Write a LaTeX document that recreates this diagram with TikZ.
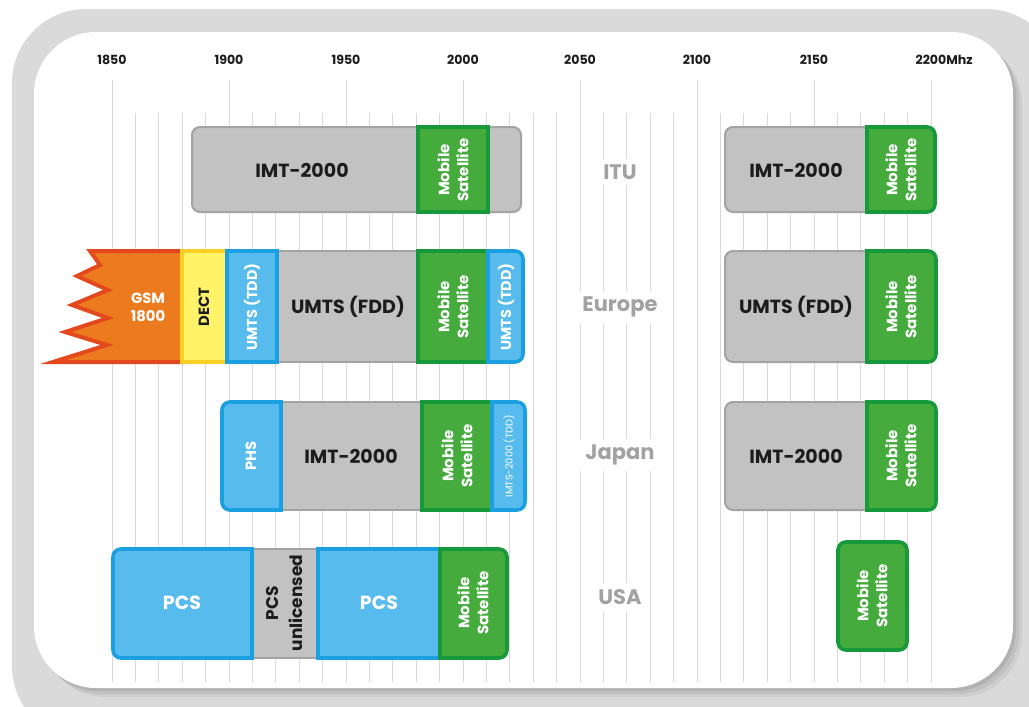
\documentclass[tikz,border=0pt]{standalone}
\usepackage{fontspec}
\setmainfont{Poppins}
\usepackage{tikz}

\definecolor{framegray}{HTML}{DADADA}
\definecolor{gridgray}{HTML}{D9D9D9}
\definecolor{bandgray}{HTML}{C2C2C2}
\definecolor{bandgrayedge}{HTML}{A3A3A3}
\definecolor{satgreen}{HTML}{46AB3D}
\definecolor{satgreenedge}{HTML}{17983A}
\definecolor{tddblue}{HTML}{58BBEE}
\definecolor{tddblueedge}{HTML}{1A9FE0}
\definecolor{gsmorange}{HTML}{EC7A1E}
\definecolor{gsmedge}{HTML}{E4491E}
\definecolor{dectyellow}{HTML}{FFF36A}
\definecolor{dectedge}{HTML}{F8CF25}
\definecolor{textdark}{HTML}{1C1C1C}
\definecolor{regiongray}{HTML}{A2A2A2}

\tikzstyle{gridline} = [draw=gridgray, line width=0.5pt]
\tikzstyle{grayband} = [fill=bandgray, draw=bandgrayedge, line width=1pt]
\tikzstyle{satband} = [fill=satgreen, draw=satgreenedge, line width=1.8pt]
\tikzstyle{tddband} = [fill=tddblue, draw=tddblueedge, line width=1.8pt]
\tikzstyle{gsmband} = [fill=gsmorange, draw=gsmedge, line width=2pt, line join=miter]
\tikzstyle{dectband} = [fill=dectyellow, draw=dectedge, line width=1.6pt]
\tikzstyle{bandlabel} = [text=textdark, font=\bfseries\fontsize{9.5}{11}\selectfont]
\tikzstyle{pcslabel} = [text=white, font=\bfseries\fontsize{9.5}{11}\selectfont]
\tikzstyle{satlabel} = [text=white, rotate=90, align=center, font=\bfseries\fontsize{7.5}{9.5}\selectfont]
\tikzstyle{tddlabel} = [text=white, rotate=90, font=\bfseries\fontsize{7.2}{8.6}\selectfont]
\tikzstyle{region} = [fill=white, text=regiongray, inner sep=3pt, font=\bfseries\fontsize{10.5}{12}\selectfont]
\tikzstyle{tick} = [text=textdark, font=\bfseries\fontsize{6.3}{7}\selectfont]

\begin{document}
\begin{tikzpicture}[x=0.5pt, y=-0.5pt]
\clip (0,0) rectangle (1029,707);

% Frame
\fill[framegray, rounded corners=37pt] (12,9) rectangle (1060,740);
\foreach \s/\o in {9/0.05, 6/0.06, 3/0.08}
  \fill[black, opacity=\o, rounded corners=31pt] ({34+\s},{32+\s}) rectangle ({1013+\s},{688+\s});
\fill[white, rounded corners=31pt] (34,32) rectangle (1013,688);

% Grid and scale
\foreach \f in {1860,1870,...,2190}
  \draw[gridline] ({112+(\f-1850)*2.34},113) -- ({112+(\f-1850)*2.34},682);
\foreach \f in {1850,1900,...,2200}
  \draw[gridline] ({112+(\f-1850)*2.34},80) -- ({112+(\f-1850)*2.34},682);
\foreach \f in {1850,1900,...,2150}
  \node[tick] (t\f) at ({112+(\f-1850)*2.34},60) {\f};
\node[tick] (t2200) at (931,60) {2200\rlap{Mhz}};

% ITU
\draw[grayband, rounded corners=4pt] (192,127) rectangle (521,212);
\draw[satband] (418,127) rectangle (488,212);
\node[bandlabel] (ituimt) at (302,170) {IMT-2000};
\node[satlabel] (itusat) at (453,170) {Mobile\\Satellite};
\draw[grayband] (796,127) [rounded corners=4pt] -- (725,127) -- (725,212) -- (796,212) [sharp corners] -- (867,212) -- (867,127) -- cycle;
\draw[satband] (901,127) [rounded corners=4pt] -- (935,127) -- (935,212) -- (901,212) [sharp corners] -- (867,212) -- (867,127) -- cycle;
\node[bandlabel] (ituimt2) at (796,170) {IMT-2000};
\node[satlabel] (itusat2) at (901,170) {Mobile\\Satellite};
\node[region] (itu) at (620,172) {ITU};

% Europe
\draw[grayband] (277,251) rectangle (418,362);
\draw[gsmband] (182,251) -- (90,251) -- (100,265) -- (77,276) -- (108,290) -- (72,305) -- (108,318) -- (65,332) -- (107,345) -- (53,362) -- (182,362) -- cycle;
\draw[dectband] (182,251) rectangle (227,362);
\draw[tddband] (227,251) rectangle (277,362);
\draw[satband] (418,251) rectangle (488,362);
\draw[tddband] (505,251) [rounded corners=4pt] -- (523,251) -- (523,362) -- (505,362) [sharp corners] -- (488,362) -- (488,251) -- cycle;
\node[text=white, align=center, font=\bfseries\fontsize{7.4}{9}\selectfont] (gsm) at (148,307) {GSM\\1800};
\node[text=textdark, rotate=90, font=\bfseries\fontsize{7.4}{8}\selectfont] (dect) at (204,307) {DECT};
\node[tddlabel] (eutdd) at (252,307) {UMTS (TDD)};
\node[bandlabel] (eufdd) at (348,307) {UMTS (FDD)};
\node[satlabel] (eusat) at (453,307) {Mobile\\Satellite};
\node[tddlabel] (eutdd2) at (506,307) {UMTS (TDD)};
\draw[grayband] (796,251) [rounded corners=4pt] -- (725,251) -- (725,362) -- (796,362) [sharp corners] -- (867,362) -- (867,251) -- cycle;
\draw[satband] (901,251) [rounded corners=4pt] -- (936,251) -- (936,362) -- (901,362) [sharp corners] -- (867,362) -- (867,251) -- cycle;
\node[bandlabel] (eufdd2) at (796,307) {UMTS (FDD)};
\node[satlabel] (eusat2) at (901,307) {Mobile\\Satellite};
\node[region] (europe) at (620,307) {Europe};

% Japan
\draw[grayband] (281,402) rectangle (422,510);
\draw[tddband] (251,402) [rounded corners=4pt] -- (222,402) -- (222,510) -- (251,510) [sharp corners] -- (281,510) -- (281,402) -- cycle;
\draw[satband] (422,402) rectangle (492,510);
\draw[tddband] (508,402) [rounded corners=4pt] -- (525,402) -- (525,510) -- (508,510) [sharp corners] -- (492,510) -- (492,402) -- cycle;
\node[text=white, rotate=90, font=\bfseries\fontsize{7.4}{8}\selectfont] (phs) at (251,456) {PHS};
\node[bandlabel] (jpimt) at (351,456) {IMT-2000};
\node[satlabel] (jpsat) at (457,456) {Mobile\\Satellite};
\node[text=white, rotate=90, font=\fontsize{4.9}{5.5}\selectfont] (jptdd) at (509,456) {IMTS-2000 (TDD)};
\draw[grayband] (796,402) [rounded corners=4pt] -- (725,402) -- (725,510) -- (796,510) [sharp corners] -- (867,510) -- (867,402) -- cycle;
\draw[satband] (901,402) [rounded corners=4pt] -- (936,402) -- (936,510) -- (901,510) [sharp corners] -- (867,510) -- (867,402) -- cycle;
\node[bandlabel] (jpimt2) at (796,456) {IMT-2000};
\node[satlabel] (jpsat2) at (901,456) {Mobile\\Satellite};
\node[region] (japan) at (620,455) {Japan};

% USA
\draw[grayband] (252,549) rectangle (318,658);
\draw[tddband] (182,549) [rounded corners=4pt] -- (113,549) -- (113,658) -- (182,658) [sharp corners] -- (252,658) -- (252,549) -- cycle;
\draw[tddband] (318,549) rectangle (440,658);
\draw[satband] (473,549) [rounded corners=4pt] -- (507,549) -- (507,658) -- (473,658) [sharp corners] -- (440,658) -- (440,549) -- cycle;
\node[pcslabel] (pcs) at (182,603) {PCS};
\node[text=textdark, rotate=90, align=center, font=\bfseries\fontsize{8.5}{12}\selectfont] (unlic) at (285,603) {PCS\\unlicensed};
\node[pcslabel] (pcs2) at (379,603) {PCS};
\node[satlabel] (ussat) at (473,603) {Mobile\\Satellite};
\draw[satband, rounded corners=4pt] (838,542) rectangle (907,650);
\node[satlabel] (ussat2) at (872,596) {Mobile\\Satellite};
\node[region] (usa) at (620,597) {USA};

\end{tikzpicture}
\end{document}
